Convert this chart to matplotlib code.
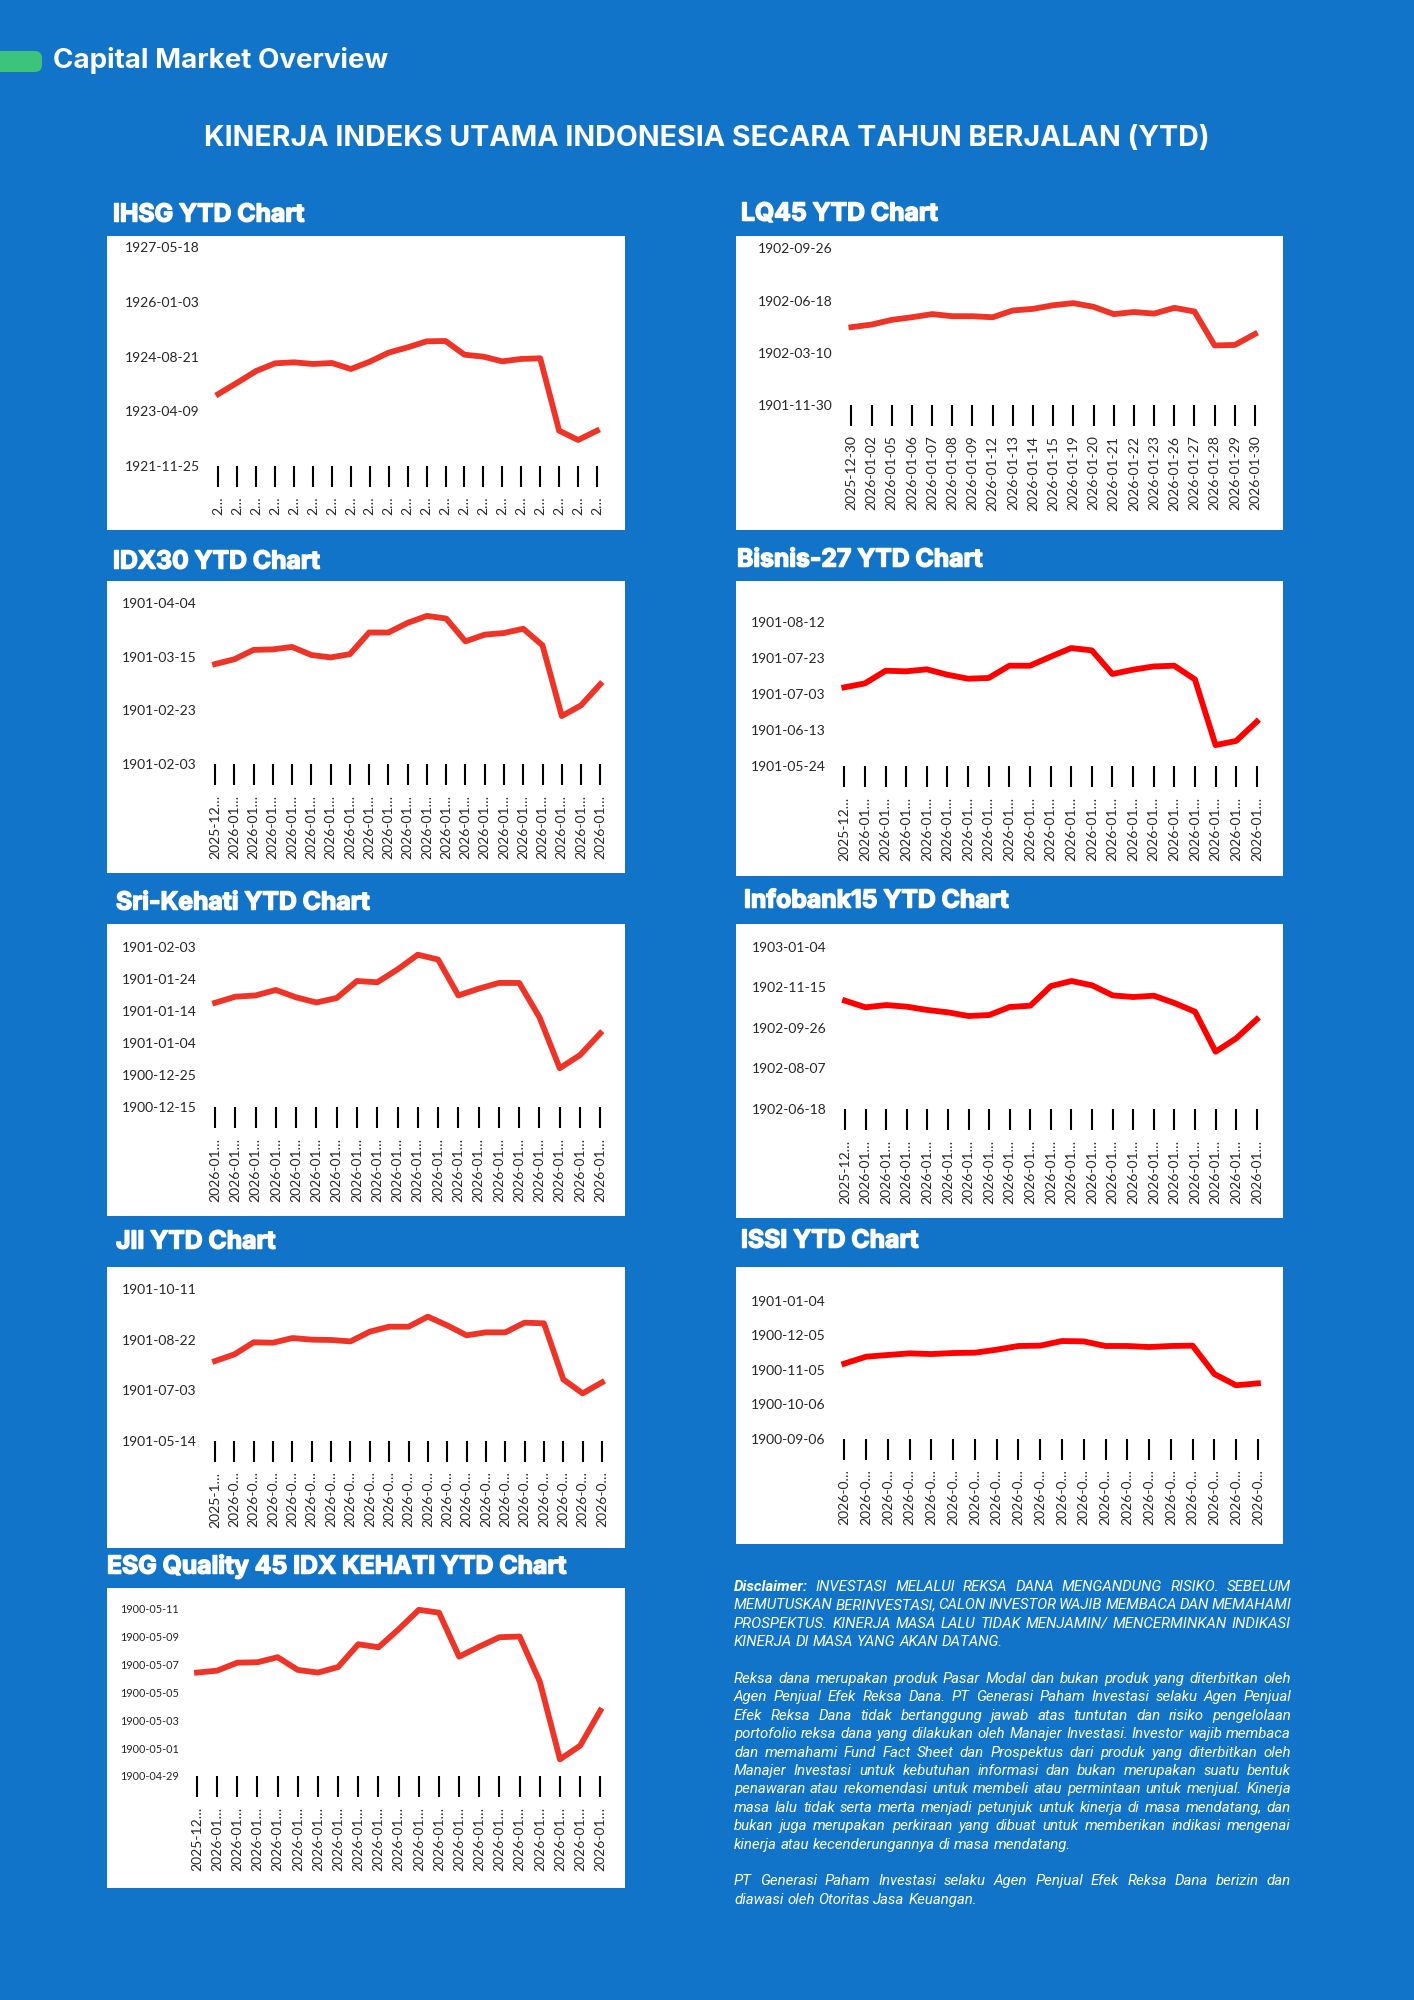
import matplotlib
matplotlib.use('Agg')
import matplotlib.pyplot as plt
import matplotlib.patheffects as pe
from matplotlib.patches import Rectangle, FancyBboxPatch
from matplotlib.ticker import FuncFormatter, FixedLocator
from datetime import datetime, timedelta

# ---- data (index levels, shown by Excel with a date number format) ----
dates = ['2025-12-30', '2026-01-02', '2026-01-05', '2026-01-06', '2026-01-07',
         '2026-01-08', '2026-01-09', '2026-01-12', '2026-01-13', '2026-01-14',
         '2026-01-15', '2026-01-19', '2026-01-20', '2026-01-21', '2026-01-22',
         '2026-01-23', '2026-01-26', '2026-01-27', '2026-01-28', '2026-01-29',
         '2026-01-30']

ihsg = [8658, 8762, 8869, 8939, 8948, 8933, 8942, 8887, 8954, 9037, 9085,
        9140, 9143, 9018, 9000, 8957, 8979, 8985, 8323, 8238, 8323]
lq45 = [849, 854, 863, 868, 874, 870, 870, 868, 881, 884, 891,
        895, 888, 874, 878, 875, 886, 879, 814, 815, 836]
idx30 = [437.3, 439.1, 442.6, 442.8, 443.7, 440.7, 439.8, 441.0, 449.1, 449.1, 452.7,
         455.3, 454.3, 445.8, 448.3, 448.9, 450.5, 444.3, 417.9, 421.9, 429.8]
bisnis27 = [553.6, 555.8, 562.8, 562.5, 563.6, 560.6, 558.4, 558.8, 565.6, 565.6, 570.6,
            575.4, 574.1, 561.0, 563.4, 565.2, 565.6, 558.0, 521.6, 523.9, 534.6]
srikehati = [382.5, 384.4, 384.8, 386.5, 384.2, 382.6, 384.0, 389.3, 388.9, 392.9,
             397.5, 396.0, 384.8, 386.9, 388.7, 388.7, 378.0, 362.1, 366.2, 373.0]
infobank15 = [1033.5, 1025.3, 1028.1, 1026.1, 1022.0, 1019.1, 1014.6, 1015.8, 1025.7, 1027.3, 1051.5,
              1057.7, 1052.4, 1040.0, 1038.0, 1039.6, 1030.6, 1019.9, 970.6, 987.1, 1010.5]
jii = [578.9, 585.5, 597.4, 597.0, 601.6, 600.0, 599.7, 598.3, 607.9, 612.8, 612.8,
       622.7, 614.1, 604.3, 607.2, 607.2, 616.8, 616.1, 560.8, 547.0, 557.9]
issi = [315.4, 321.4, 322.9, 324.3, 323.7, 324.6, 324.9, 327.5, 330.7, 331.0,
        335.0, 334.7, 330.7, 330.7, 329.8, 330.7, 331.0, 306.4, 296.6, 298.3]
esg45 = [127.40, 127.54, 128.11, 128.14, 128.50, 127.59, 127.40, 127.80, 129.43, 129.21, 130.50,
         131.89, 131.69, 128.54, 129.26, 129.93, 129.98, 126.75, 121.19, 122.17, 124.68]

ihsg_ticks = [8000, 8500, 9000, 9500, 10000]
lq45_ticks = [700, 800, 900, 1000]
idx30_ticks = [400, 420, 440, 460]
bisnis27_ticks = [510, 530, 550, 570, 590]
srikehati_ticks = [350, 360, 370, 380, 390, 400]
infobank15_ticks = [900, 950, 1000, 1050, 1100]
jii_ticks = [500, 550, 600, 650]
issi_ticks = [250, 280, 310, 340, 370]
esg45_ticks = [120, 122, 124, 126, 128, 130, 132]

disclaimer = [
    ["Disclaimer: INVESTASI MELALUI REKSA DANA MENGANDUNG RISIKO. SEBELUM",
     "MEMUTUSKAN BERINVESTASI, CALON INVESTOR WAJIB MEMBACA DAN MEMAHAMI",
     "PROSPEKTUS. KINERJA MASA LALU TIDAK MENJAMIN/ MENCERMINKAN INDIKASI",
     "KINERJA DI MASA YANG AKAN DATANG."],
    ["Reksa dana merupakan produk Pasar Modal dan bukan produk yang diterbitkan oleh",
     "Agen Penjual Efek Reksa Dana. PT Generasi Paham Investasi selaku Agen Penjual",
     "Efek Reksa Dana tidak bertanggung jawab atas tuntutan dan risiko pengelolaan",
     "portofolio reksa dana yang dilakukan oleh Manajer Investasi. Investor wajib membaca",
     "dan memahami Fund Fact Sheet dan Prospektus dari produk yang diterbitkan oleh",
     "Manajer Investasi untuk kebutuhan informasi dan bukan merupakan suatu bentuk",
     "penawaran atau rekomendasi untuk membeli atau permintaan untuk menjual. Kinerja",
     "masa lalu tidak serta merta menjadi petunjuk untuk kinerja di masa mendatang, dan",
     "bukan juga merupakan perkiraan yang dibuat untuk memberikan indikasi mengenai",
     "kinerja atau kecenderungannya di masa mendatang."],
    ["PT Generasi Paham Investasi selaku Agen Penjual Efek Reksa Dana berizin dan",
     "diawasi oleh Otoritas Jasa Keuangan."],
]

W, H = 1414, 2000
BLUE = '#1174C8'
RED = '#EE3427'
PURE_RED = '#FF0000'
LABEL = '#262626'

fig = plt.figure(figsize=(W / 100, H / 100), dpi=100, facecolor=BLUE)
renderer = fig.canvas.get_renderer()
heavy = [pe.withStroke(linewidth=1.1, foreground='white')]


def fx(x):
    return x / W


def fy(y):
    return 1 - y / H


def excel_date(v, pos=None):
    # Excel serial number shown as a date
    return (datetime(1899, 12, 30) + timedelta(days=int(round(v)))).strftime('%Y-%m-%d')


def trunc(label, keep):
    return label if keep is None else label[:keep] + '\u2026'


def panel(title, tx, ty, box, axbox, xlabels, values, yticks, color, ysize=10):
    bx0, by0, bx1, by1 = box
    fig.add_artist(Rectangle((fx(bx0), fy(by1)), (bx1 - bx0) / W, (by1 - by0) / H,
                             transform=fig.transFigure, facecolor='white',
                             edgecolor='none', zorder=-1))
    fig.text(fx(tx), fy(ty), title, color='white', fontsize=17.8, family='Inter',
             fontweight='bold', ha='left', va='center', path_effects=heavy)
    x0, x1, yb, yt = axbox
    ax = fig.add_axes([fx(x0), fy(yb), (x1 - x0) / W, (yb - yt) / H])
    ax.set_facecolor('none')
    n = len(values)
    ax.plot(range(n), values, color=color, lw=4.2, solid_joinstyle='round', clip_on=False)
    ax.set_xlim(0, n - 1)
    ax.set_ylim(yticks[0], yticks[-1])
    ax.yaxis.set_major_locator(FixedLocator(yticks))
    ax.yaxis.set_major_formatter(FuncFormatter(excel_date))
    ax.set_xticks(range(n))
    ax.set_xticklabels(xlabels, rotation=90, fontsize=10, family='Lato', color=LABEL)
    ax.tick_params(axis='x', direction='out', length=15, width=1.5, color='black', pad=7)
    ax.tick_params(axis='y', length=0, pad=13.3, labelsize=ysize, labelcolor=LABEL)
    for lab in ax.get_yticklabels():
        lab.set_family('Lato')
    for s in ax.spines.values():
        s.set_visible(False)
    return ax


# header
fig.add_artist(FancyBboxPatch((fx(-30), fy(72)), 72 / W, 21 / H,
                              boxstyle='round,pad=0,rounding_size=0.0052',
                              transform=fig.transFigure, facecolor='#3CC47C',
                              edgecolor='none', mutation_aspect=W / H))
fig.text(fx(53), fy(61), 'Capital Market Overview', color='white', fontsize=20,
         family='Inter', fontweight='bold', ha='left', va='center')
fig.text(fx(707), fy(138), 'KINERJA INDEKS UTAMA INDONESIA SECARA TAHUN BERJALAN (YTD)',
         color='white', fontsize=20.6, family='Inter', fontweight='bold', ha='center', va='center')

d21 = dates
d20 = dates[1:]

panel('IHSG YTD Chart', 113, 215, (107, 236, 625, 530), (218.3, 597, 466, 247.3),
      [trunc(d, 1) for d in d21], ihsg, ihsg_ticks, RED)
panel('LQ45 YTD Chart', 741, 214, (736, 236, 1283, 530), (851.4, 1255, 405, 248.3),
      d21, lq45, lq45_ticks, RED)
panel('IDX30 YTD Chart', 113, 562, (107, 581, 625, 873), (215, 600.3, 764, 603.3),
      [trunc(d, 7) for d in d21], idx30, idx30_ticks, RED)
panel('Bisnis-27 YTD Chart', 737, 560, (736, 581, 1283, 876), (844.3, 1256.8, 766, 621.7),
      [trunc(d, 7) for d in d21], bisnis27, bisnis27_ticks, PURE_RED)
panel('Sri-Kehati YTD Chart', 116, 903, (107, 924, 625, 1216), (215, 600.3, 1107, 946.7),
      [trunc(d, 7) for d in d20], srikehati, srikehati_ticks, RED)
panel('Infobank15 YTD Chart', 744, 901, (736, 924, 1283, 1218), (845, 1256.8, 1109, 946.7),
      [trunc(d, 7) for d in d21], infobank15, infobank15_ticks, PURE_RED)
panel('JII YTD Chart', 116, 1242, (107, 1267, 625, 1548), (215, 602, 1441, 1289),
      [trunc(d, 6) for d in d21], jii, jii_ticks, RED)
panel('ISSI YTD Chart', 741, 1241, (736, 1267, 1283, 1544), (844.3, 1257.9, 1439, 1300.7),
      [trunc(d, 6) for d in d20], issi, issi_ticks, PURE_RED)
panel('ESG Quality 45 IDX KEHATI YTD Chart', 107, 1566, (107, 1588, 625, 1888),
      (197, 600.3, 1776, 1608.3), [trunc(d, 7) for d in d21], esg45, esg45_ticks, RED, ysize=7.8)

# disclaimer, justified
left, right = 734, 1291
width = right - left
font = dict(family='Roboto', style='italic', color='white')


def text_width(s, size, **kw):
    t = fig.text(0, 0, s, fontsize=size, **kw)
    w = t.get_window_extent(renderer).width
    t.remove()
    return w


size = 10 * (width - 2) / text_width(disclaimer[1][3], 10, **font)
space = text_width('a a', size, **font) - text_width('aa', size, **font)

y = 1591
step = 18.4
for para in disclaimer:
    for li, line in enumerate(para):
        words = line.split(' ')
        styles = []
        for wi, w in enumerate(words):
            st = dict(font)
            if para is disclaimer[0] and li == 0 and wi == 0:
                st['fontweight'] = 'bold'
            styles.append(st)
        widths = [text_width(w, size, **st) for w, st in zip(words, styles)]
        last = li == len(para) - 1
        gap = space if last or len(words) < 2 else (width - sum(widths)) / (len(words) - 1)
        x = left
        for w, st, wd in zip(words, styles, widths):
            fig.text(fx(x), fy(y), w, fontsize=size, ha='left', va='baseline', **st)
            x += wd + gap
        y += step
    y += step

fig.savefig('out.png', dpi=100, facecolor=BLUE)
